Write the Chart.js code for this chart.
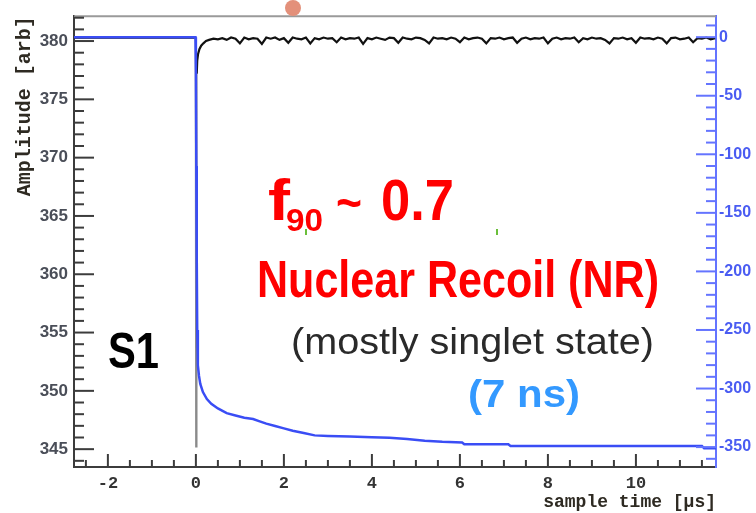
<!DOCTYPE html>
<html>
<head>
<meta charset="utf-8">
<script src="https://cdn.jsdelivr.net/npm/chart.js@4.4.1/dist/chart.umd.min.js"></script>
<style>
  html, body { margin: 0; padding: 0; background: #fff; }
  #wrap { width: 756px; height: 513px; }
</style>
</head>
<body>
<div id="wrap"><canvas id="pulseChart" width="756" height="513"></canvas></div>
<script>
// tick labels
const xTicks = [-2, 0, 2, 4, 6, 8, 10];
const leftTicks = [345, 350, 355, 360, 365, 370, 375, 380];
const rightTicks = [0, -50, -100, -150, -200, -250, -300, -350];

// integrated signal (blue, right axis)
const blueTime = [-2.77, -0.01, 0.0, 0.01, 0.02, 0.03, 0.045, 0.07, 0.1, 0.16, 0.25, 0.35, 0.5, 0.7, 0.9,
  1.1, 1.3, 1.45, 1.6, 1.8, 2.0, 2.2, 2.45, 2.7, 3.0, 3.5, 4.0, 4.4, 4.8, 5.2, 5.6, 6.05, 6.1,
  7.1, 7.15, 11.5, 11.55, 11.82];
const blueVal = [0, 0, -30, -110, -190, -250, -280, -289, -296, -303, -309, -313, -317, -321, -323,
  -325, -326, -328, -330, -332, -334, -336, -338, -340, -340.5, -341, -341.5, -342, -343, -344.5, -345.5, -346, -347.5,
  -347.5, -349, -349, -351, -351];

// raw waveform (black, left axis)
const blackTime = [-2.77, -0.5, -0.01, 0.0, 0.012, 0.02, 0.03, 0.05, 0.08, 0.12, 0.17, 0.23, 0.3, 0.4, 0.5,
  0.6, 0.7, 0.8, 0.9, 1.0, 1.1, 1.2, 1.3, 1.4, 1.5,
  1.6, 1.7, 1.8, 1.9, 2.0, 2.1, 2.2, 2.3, 2.4, 2.5,
  2.6, 2.7, 2.8, 2.9, 3.0, 3.1, 3.2, 3.3, 3.4, 3.5,
  3.6, 3.7, 3.8, 3.9, 4.0, 4.1, 4.2, 4.3, 4.4, 4.5,
  4.6, 4.7, 4.8, 4.9, 5.0, 5.1, 5.2, 5.3, 5.4, 5.5,
  5.6, 5.7, 5.8, 5.9, 6.0, 6.1, 6.2, 6.3, 6.4, 6.5,
  6.6, 6.7, 6.8, 6.9, 7.0, 7.1, 7.2, 7.3, 7.4, 7.5,
  7.6, 7.7, 7.8, 7.9, 8.0, 8.1, 8.2, 8.3, 8.4, 8.5,
  8.6, 8.7, 8.8, 8.9, 9.0, 9.1, 9.2, 9.3, 9.4, 9.5,
  9.6, 9.7, 9.8, 9.9, 10.0, 10.1, 10.2, 10.3, 10.4, 10.5,
  10.6, 10.7, 10.8, 10.9, 11.0, 11.1, 11.2, 11.3, 11.4, 11.5,
  11.6, 11.7, 11.8];
const blackAmp = [380.3, 380.3, 380.3, 345.2, 345.2, 377.2, 378.3, 378.9, 379.3, 379.6, 379.8, 380.0, 380.1, 380.2, 380.15,
  380.25, 380.10, 380.30, 380.20, 379.80, 380.30, 380.15, 380.25, 380.20, 379.75,
  380.30, 380.20, 380.30, 380.10, 380.25, 379.85, 380.30, 380.20, 380.15, 380.30,
  379.80, 380.25, 380.15, 380.30, 380.20, 380.25, 379.90, 380.30, 380.15, 380.25,
  380.20, 380.30, 379.75, 380.25, 380.15, 380.30, 380.20, 380.10, 380.30, 380.25,
  379.85, 380.30, 380.20, 380.15, 380.30, 380.25, 380.10, 379.80, 380.30, 380.20,
  380.25, 380.15, 380.30, 380.20, 379.90, 380.30, 380.15, 380.25, 380.30, 380.20,
  379.80, 380.25, 380.20, 380.30, 380.15, 380.25, 380.30, 379.85, 380.20, 380.30,
  380.15, 380.25, 380.20, 380.30, 379.80, 380.20, 380.30, 380.15, 380.25, 380.20,
  380.30, 379.90, 380.25, 380.15, 380.30, 380.20, 380.25, 380.10, 379.80, 380.25,
  380.20, 380.30, 380.15, 380.25, 379.85, 380.30, 380.20, 380.25, 380.15, 380.30,
  380.20, 379.80, 380.25, 380.30, 380.15, 380.20, 380.30, 379.90, 380.25, 380.20,
  380.30, 380.15, 380.25];

const BLUE = '#3a4df5';
const AXIS_BLUE = '#6474ff';
const RED = '#ff0000';

function fitText(ctx, text, x, baseline, width, font, color) {
  ctx.font = font;
  const w = ctx.measureText(text).width;
  ctx.save();
  ctx.translate(x, baseline);
  ctx.scale(width / w, 1);
  ctx.fillStyle = color;
  ctx.textAlign = 'left';
  ctx.textBaseline = 'alphabetic';
  ctx.fillText(text, 0, 0);
  ctx.restore();
}

function seg(ctx, x1, y1, x2, y2) {
  ctx.beginPath();
  ctx.moveTo(x1, y1);
  ctx.lineTo(x2, y2);
  ctx.stroke();
}

// the fast pulse itself is drawn as a thin grey trace, as in the scope shot
const inPulse = c => c.p0.parsed.y < 370 || c.p1.parsed.y < 370;

// ROOT style frame with inward tick marks
const rootTicks = {
  id: 'rootTicks',
  afterDatasetsDraw(chart) {
    const { ctx, chartArea: a, scales } = chart;
    ctx.save();
    ctx.lineWidth = 2;
    ctx.strokeStyle = '#9a9a9a';
    seg(ctx, a.left, a.top, a.right, a.top);

    ctx.strokeStyle = '#3c3c3c';
    for (let v = 344; v <= 382; v++) {
      const y = scales.yL.getPixelForValue(v);
      seg(ctx, a.left, y, a.left + (v % 5 === 0 ? 20 : 10), y);
    }
    for (let v = -2.5; v <= 11.5; v += 0.5) {
      const x = scales.x.getPixelForValue(v);
      seg(ctx, x, a.bottom, x, a.bottom - (v % 2 === 0 ? 13 : 7));
    }

    ctx.strokeStyle = AXIS_BLUE;
    for (let v = -360; v <= 10; v += 10) {
      const y = scales.yR.getPixelForValue(v);
      seg(ctx, a.right, y, a.right - (v % 50 === 0 ? 20 : 10), y);
    }
    ctx.restore();
  }
};

const notes = {
  id: 'notes',
  afterDraw(chart) {
    const ctx = chart.ctx;
    const sans = '"Liberation Sans", Arial, sans-serif';
    fitText(ctx, 'f', 268, 220, 22, 'bold 58px ' + sans, RED);
    fitText(ctx, '90', 286, 231, 37, 'bold 31px ' + sans, RED);
    fitText(ctx, '~', 336, 220, 26, 'bold 50px ' + sans, RED);
    fitText(ctx, '0.7', 381, 220, 73, 'bold 58px ' + sans, RED);
    fitText(ctx, 'Nuclear Recoil (NR)', 257, 297, 402, 'bold 52px ' + sans, RED);
    fitText(ctx, '(mostly singlet state)', 291, 354, 363, '36px ' + sans, '#2a2a2a');
    fitText(ctx, '(7 ns)', 468, 407, 112, 'bold 39px ' + sans, '#3399ff');
    fitText(ctx, 'S1', 108, 368, 51, 'bold 50px ' + sans, '#000');

    ctx.save();
    ctx.fillStyle = '#6abf3a';
    ctx.fillRect(305, 229, 2, 6);
    ctx.fillRect(496, 229, 2, 6);
    ctx.fillStyle = '#e3907a';
    ctx.beginPath();
    ctx.arc(293, 8, 8, 0, Math.PI * 2);
    ctx.fill();
    ctx.restore();
  }
};

const mono = '"Liberation Mono", "DejaVu Sans Mono", monospace';
const sansB = '"Liberation Sans", Arial, sans-serif';

let ctx = document.getElementById('pulseChart');
let pulseChart = new Chart(ctx, {
  type: 'line',
  data: {
    datasets: [
      {
        label: 'integral',
        data: blueTime.map((t, i) => ({ x: t, y: blueVal[i] })),
        yAxisID: 'yR',
        borderColor: BLUE,
        borderWidth: 2.5,
        pointRadius: 0,
        tension: 0,
        order: 0
      },
      {
        label: 'waveform',
        data: blackTime.map((t, i) => ({ x: t, y: blackAmp[i] })),
        yAxisID: 'yL',
        borderColor: '#111',
        borderWidth: 2.2,
        pointRadius: 0,
        tension: 0,
        order: 1,
        segment: {
          borderColor: c => inPulse(c) ? '#8a8a8a' : undefined,
          borderWidth: c => inPulse(c) ? 1.5 : undefined
        }
      }
    ]
  },
  options: {
    responsive: false,
    animation: false,
    devicePixelRatio: 1,
    layout: { padding: { top: 13, left: 0, right: 0, bottom: 0 } },
    plugins: { legend: { display: false }, tooltip: { enabled: false } },
    scales: {
      x: {
        type: 'linear',
        min: -2.77,
        max: 11.82,
        afterBuildTicks: s => { s.ticks = xTicks.map(v => ({ value: v })); },
        afterFit: s => { s.height = 46; },
        grid: { drawOnChartArea: false, drawTicks: false },
        border: { color: '#3c3c3c', width: 2 },
        ticks: {
          padding: 7, autoSkip: false, maxRotation: 0,
          color: '#333', font: { family: mono, weight: 'bold', size: 17 },
          callback: v => String(v)
        },
        title: {
          display: true, text: 'sample time [\u00b5s]', align: 'end',
          color: '#2e2a22', font: { family: mono, weight: 'bold', size: 18 },
          padding: { top: 0, bottom: 0 }
        }
      },
      yL: {
        type: 'linear',
        position: 'left',
        min: 343.47,
        max: 382.13,
        afterBuildTicks: s => { s.ticks = leftTicks.map(v => ({ value: v })); },
        afterFit: s => { s.width = 74; },
        grid: { drawOnChartArea: false, drawTicks: false },
        border: { color: '#3c3c3c', width: 2 },
        ticks: {
          padding: 6,
          color: '#4a4e58', font: { family: sansB, weight: 'bold', size: 17 }
        },
        title: {
          display: true, text: 'Amplitude [arb]', align: 'end',
          color: '#2e2a22', font: { family: mono, weight: 'bold', size: 20 },
          padding: { top: 13, bottom: 0 }
        }
      },
      yR: {
        type: 'linear',
        position: 'right',
        min: -367,
        max: 17.9,
        afterBuildTicks: s => { s.ticks = rightTicks.map(v => ({ value: v })); },
        afterFit: s => { s.width = 40; },
        grid: { drawOnChartArea: false, drawTicks: false },
        border: { color: AXIS_BLUE, width: 2 },
        ticks: {
          padding: 3,
          color: '#4a5cf2', font: { family: sansB, weight: 'bold', size: 16 }
        }
      }
    }
  },
  plugins: [rootTicks, notes]
});
</script>
</body>
</html>
